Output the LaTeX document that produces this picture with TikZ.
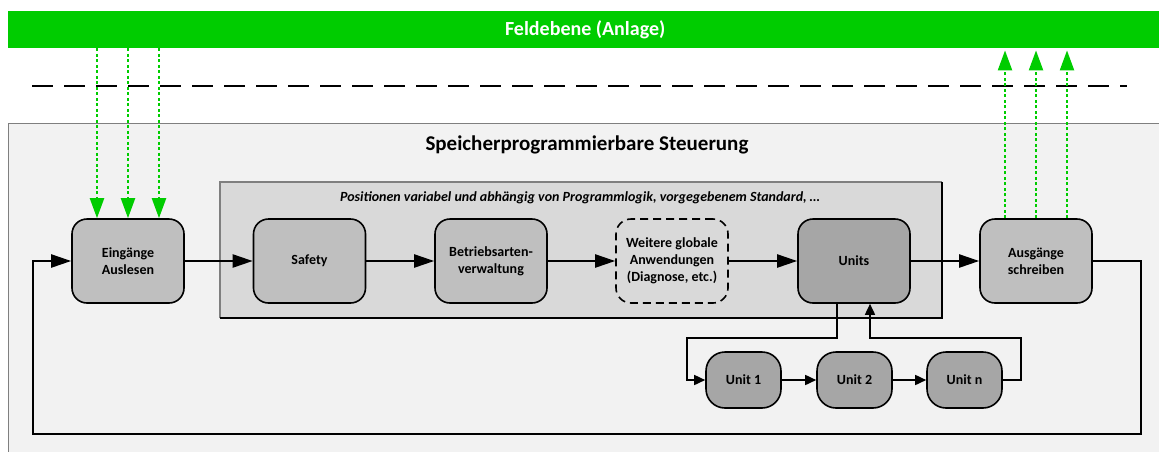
\documentclass[tikz,border=0pt]{standalone}
\usepackage{fontspec}
\setmainfont{Carlito}
\usetikzlibrary{arrows.meta}
\definecolor{fieldgreen}{HTML}{00CC00}
\definecolor{plcfill}{HTML}{F2F2F2}
\definecolor{plcline}{HTML}{7F7F7F}
\definecolor{zonefill}{HTML}{D9D9D9}
\definecolor{procfill}{HTML}{BFBFBF}
\definecolor{unitfill}{HTML}{A6A6A6}
\tikzset{
  proc/.style={draw=black, line width=1.6pt, rounded corners=15pt, fill=procfill,
    minimum width=112pt, minimum height=84pt, align=center, inner sep=2pt,
    font=\bfseries\fontsize{14}{17}\selectfont},
  unitbox/.style={draw=black, line width=1.6pt, rounded corners=19pt, fill=unitfill,
    minimum width=75pt, minimum height=56pt, align=center, inner sep=2pt,
    font=\bfseries\fontsize{14}{17}\selectfont},
  flow/.style={line width=2.2pt, -{Triangle[length=20pt,width=13pt]}},
  subflow/.style={line width=1.6pt, -{Triangle[length=11pt,width=10pt]}},
  io/.style={draw=fieldgreen, line width=2.2pt, dash pattern=on 3pt off 2.5pt,
    -{Triangle[length=20pt,width=14pt,fill=fieldgreen,sep=0pt]}},
}
\begin{document}
\begin{tikzpicture}[x=1pt,y=-1pt]
\useasboundingbox (0,0) rectangle (1159,451);
\begin{scope}
\clip (0,0) rectangle (1159,451);
% controller frame
\draw[plcline, fill=plcfill, line width=1.2pt] (8.5,123.5) rectangle (1175,470);
% field level bar
\node[fill=fieldgreen, minimum width=1160pt, minimum height=37pt, inner sep=0pt,
  anchor=north west, text=white, font=\bfseries\fontsize{20}{22}\selectfont] (bar) at (8,11)
  {\hspace*{-6pt}Feldebene (Anlage)};
\end{scope}
% boundary between field and controller
\draw[line width=2.6pt, dash pattern=on 21pt off 11pt] (32,86) -- (1127,86);
\node[font=\bfseries\fontsize{21}{24}\selectfont] (plctitle) at (587,145) {Speicherprogrammierbare Steuerung};
% zone of global applications
\fill[zonefill] (220,182) rectangle (942,318);
\draw[plcline, line width=1.1pt] (220,318) -- (220,182) -- (942,182);
\draw[black, line width=1.1pt] (942,182) -- (942,318) -- (220,318);
\node[font=\bfseries\itshape\fontsize{14}{16}\selectfont] (zonetitle) at (580,198)
  {Positionen variabel und abhängig von Programmlogik, vorgegebenem Standard, …};
% main cycle
\node[proc] (ein) at (128,261) {Eingänge\\Auslesen};
\node[proc] (safety) at (309.5,261) {Safety};
\node[proc] (betrieb) at (491,261) {Betriebsarten-\\verwaltung};
\node[proc, fill=none, dashed, dash pattern=on 8pt off 5pt] (weitere) at (672,261) {Weitere globale\\Anwendungen\\(Diagnose, etc.)};
\node[proc, fill=unitfill] (units) at (854,261) {Units};
\node[proc] (aus) at (1036,261) {Ausgänge\\schreiben};
% unit chain
\node[unitbox] (u1) at (743.5,380) {Unit 1};
\node[unitbox] (u2) at (854.5,380) {Unit 2};
\node[unitbox] (un) at (964.5,380) {Unit n};
\draw[flow] (ein) -- (safety);
\draw[flow] (safety) -- (betrieb);
\draw[flow] (betrieb) -- (weitere);
\draw[flow] (weitere) -- (units);
\draw[flow] (units) -- (aus);
\coordinate (loopR) at (1141,434);
\coordinate (loopL) at (33,434);
\draw[flow] (aus.east) -| (loopR) -- (loopL) |- (ein.west);
\coordinate (subL) at (687,338);
\coordinate (subR) at (1021,338);
\draw[subflow] ([xshift=-17pt]units.south) |- (subL) |- (u1.west);
\draw[subflow] (u1) -- (u2);
\draw[subflow] (u2) -- (un);
\draw[subflow] (un.east) -| (subR) -| ([xshift=16pt]units.south);
% field signals
\foreach \dx in {-31,0,31} {
  \draw[io] ([xshift=\dx pt]ein.north |- bar.south) -- ([xshift=\dx pt]ein.north);
  \draw[io] ([xshift=\dx pt]aus.north) -- ([xshift=\dx pt, yshift=-2pt]aus.north |- bar.south);
}
\end{tikzpicture}
\end{document}
